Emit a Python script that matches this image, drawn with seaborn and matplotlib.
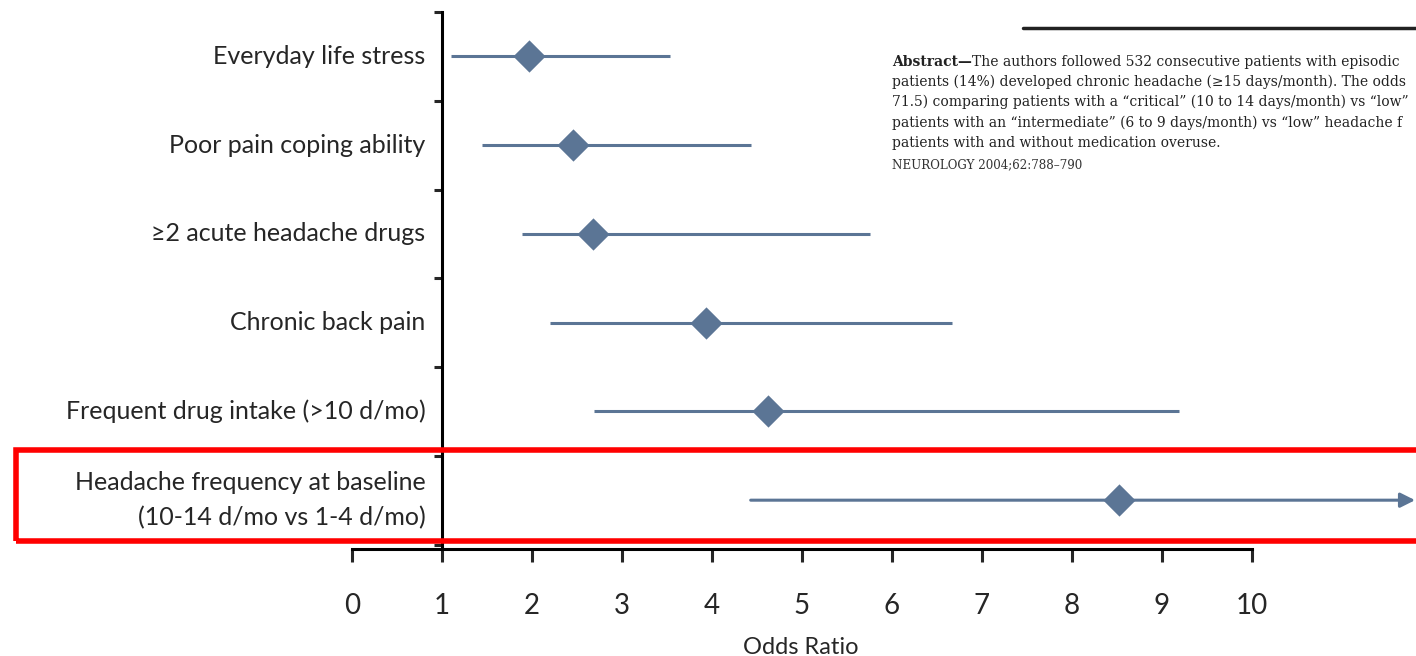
import matplotlib
matplotlib.use("Agg")
import matplotlib.pyplot as plt
import matplotlib.patches as patches
import matplotlib.lines as mlines
import seaborn as sns
import pandas as pd
import numpy as np

factors = ["Everyday life stress", "Poor pain coping ability", "≥2 acute headache drugs",
           "Chronic back pain", "Frequent drug intake (>10 d/mo)",
           "Headache frequency at baseline\n(10-14 d/mo vs 1-4 d/mo)"]
odds = [1.97, 2.46, 2.68, 3.93, 4.62, 8.52]
ci_low = [1.10, 1.44, 1.89, 2.20, 2.69, 4.43]
ci_high = [3.53, 4.43, 5.76, 6.67, 9.19, 71.5]
xticks = [0, 1, 2, 3, 4, 5, 6, 7, 8, 9, 10]
abstract_lines = [
    "patients (14%) developed chronic headache (\u226515 days/month). The odds",
    "71.5) comparing patients with a \u201ccritical\u201d (10 to 14 days/month) vs \u201clow\u201d",
    "patients with an \u201cintermediate\u201d (6 to 9 days/month) vs \u201clow\u201d headache f",
    "patients with and without medication overuse.",
]
abstract_first_bold = "Abstract\u2014"
abstract_first_rest = "The authors followed 532 consecutive patients with episodic"
citation = "NEUROLOGY 2004;62:788\u2013790"

sns.set_style("white")
plt.rcParams['font.family'] = ['Lato', 'DejaVu Sans']

W, H = 1416, 656
fig = plt.figure(figsize=(W / 100, H / 100), dpi=100)
ax = fig.add_axes([352 / W, 1 - 549 / H, (W - 352) / W, 537 / H])

col = "#5B7595"
df = pd.DataFrame({"factor": factors, "y": np.arange(len(factors)), "odds": odds,
                   "lo": ci_low, "hi": ci_high})
xmax = (W - 352) / 90.0

# CI lines
for i, r in df.iterrows():
    if r.hi > xmax:
        ax.annotate("", xy=(xmax - 0.01, r.y), xytext=(r.lo, r.y),
                    arrowprops=dict(arrowstyle="-|>", color=col, lw=2.2,
                                    mutation_scale=22, shrinkA=0, shrinkB=0))
    else:
        ax.hlines(r.y, r.lo, r.hi, color=col, lw=2.2, zorder=2)

sns.scatterplot(data=df, x="odds", y="y", marker="D", s=270, color=col,
                edgecolor=col, linewidth=0, zorder=3, ax=ax, legend=False)

ax.set_xlim(0, xmax)
ax.set_ylim(len(factors) - 0.45, -0.5)

# spines
for s in ["top", "right"]:
    ax.spines[s].set_visible(False)
ax.spines["left"].set_position(("data", 1))
ax.spines["left"].set_linewidth(2.2)
ax.spines["bottom"].set_linewidth(2.2)
ax.spines["left"].set_color("black")
ax.spines["bottom"].set_color("black")
ax.spines["bottom"].set_bounds(0, 10)

ax.set_xticks(xticks)
ax.set_xticklabels([str(t) for t in xticks], fontsize=20)
ax.tick_params(axis="x", direction="out", length=9, width=2.2, pad=23, bottom=True)

bounds = np.arange(-0.5, len(factors) + 0.5, 1)
ax.set_yticks(bounds)
ax.set_yticklabels([])
ax.set_yticks(np.arange(len(factors)), minor=True)
ax.set_yticklabels(factors, minor=True, fontsize=18, ha="right", linespacing=1.6)
ax.tick_params(axis="y", which="major", direction="out", length=6, width=2.2, left=True)
ax.tick_params(axis="y", which="minor", length=0, pad=12)
for lab in ax.get_yticklabels(minor=True):
    lab.set_verticalalignment("center")

ax.set_xlabel("Odds Ratio", fontsize=17, labelpad=13)
ax.xaxis.label.set_x((801 - 352) / (W - 352))
ax.set_ylabel("")

# red highlight rectangle
rect = patches.Rectangle((16 / W, 1 - 541 / H), 1.2, 91 / H, transform=fig.transFigure,
                         fill=False, edgecolor="#FF0000", lw=4, clip_on=False, zorder=5)
fig.patches.append(rect)

# abstract inset
fs = 10.0
fig.add_artist(mlines.Line2D([1023 / W, 1.0], [1 - 28 / H, 1 - 28 / H], color="#222222",
                             lw=2.5, transform=fig.transFigure))
tx = 892 / W
t0 = fig.text(tx, 1 - 62 / H, abstract_first_bold, family="DejaVu Serif", fontsize=fs,
              fontweight="bold", va="center", ha="left", color="#222222")
fig.canvas.draw()
bb = t0.get_window_extent()
fig.text(bb.x1 / W, 1 - 62 / H, abstract_first_rest, family="DejaVu Serif", fontsize=fs,
         va="center", ha="left", color="#222222")
for k, line in enumerate(abstract_lines):
    fig.text(tx, 1 - (82 + 20.3 * k) / H, line, family="DejaVu Serif", fontsize=fs,
             va="center", ha="left", color="#222222")
fig.text(tx, 1 - 165 / H, citation, family="DejaVu Serif", fontsize=8.6,
         va="center", ha="left", color="#333333")

fig.savefig("out.png", dpi=100)
